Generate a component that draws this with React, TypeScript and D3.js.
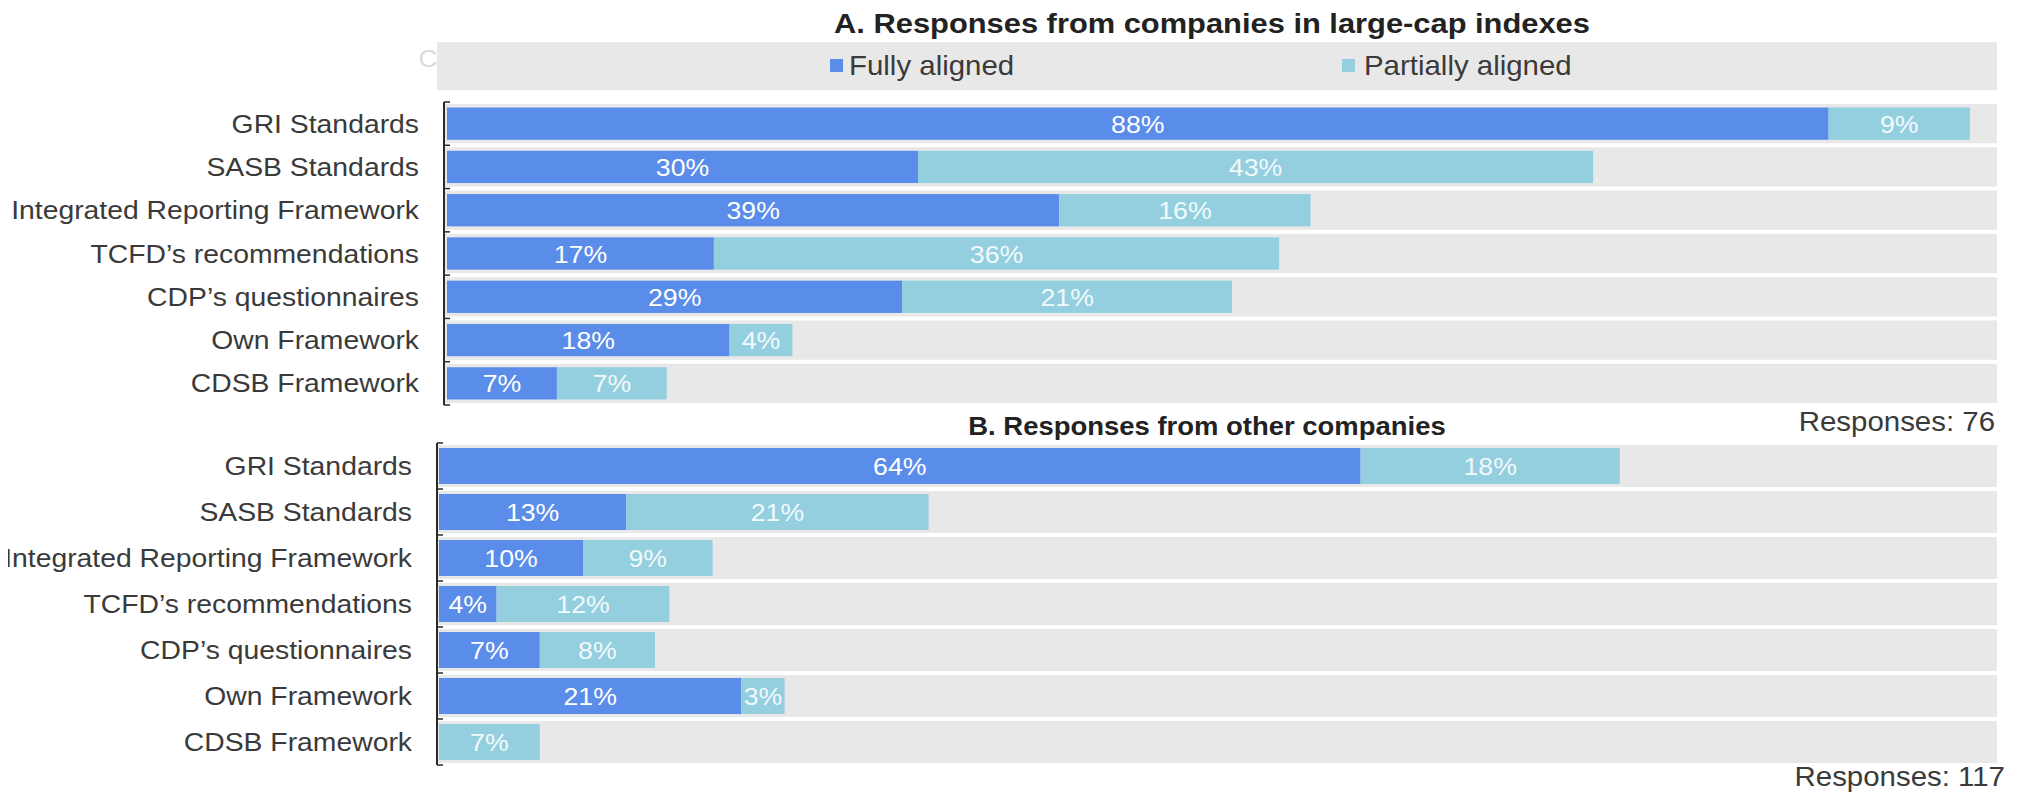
import React from "react";
import * as d3 from "d3";

const categories = [
  "GRI Standards",
  "SASB Standards",
  "Integrated Reporting Framework",
  "TCFD\u2019s recommendations",
  "CDP\u2019s questionnaires",
  "Own Framework",
  "CDSB Framework",
];
const seriesNames = ["Fully aligned", "Partially aligned"];
const largeFully = [88, 30, 39, 17, 29, 18, 7];
const largePartial = [9, 43, 16, 36, 21, 4, 7];
const otherFully = [64, 13, 10, 4, 7, 21, 0];
const otherPartial = [18, 21, 9, 12, 8, 3, 7];
const titleA = "A. Responses from companies in large-cap indexes";
const titleB = "B. Responses from other companies";
const responsesA = "Responses: 76";
const responsesB = "Responses: 117";

const W = 2018;
const H = 793;
const SX = 1.09;
const FONT = "'Liberation Sans', Arial, Helvetica, sans-serif";
const C_FULL = "#5A8CEA";
const C_PART = "#94CFE0";
const C_BG = "#E8E8E8";
const C_TEXT = "#3A3A3A";
const BG_RIGHT = 1997;

function T(props: {
  x: number;
  y: number;
  anchor?: string;
  size?: number;
  weight?: string | number;
  fill?: string;
  children: React.ReactNode;
}) {
  const { x, y, anchor = "start", size = 26, weight = "normal", fill = C_TEXT, children } = props;
  return (
    <text
      transform={`translate(${x},${y}) scale(${SX},1)`}
      textAnchor={anchor}
      fontSize={size}
      fontWeight={weight}
      fill={fill}
      fontFamily={FONT}
    >
      {children}
    </text>
  );
}

function Panel(props: {
  fully: number[];
  partial: number[];
  x0: number;
  x100: number;
  axisX: number;
  labelX: number;
  yTop: number;
  yBottom: number;
  barInset: number;
}) {
  const { fully, partial, x0, x100, axisX, labelX, yTop, yBottom, barInset } = props;
  const x = d3.scaleLinear().domain([0, 100]).range([x0, x100]);
  const y = d3.scaleBand<string>().domain(categories).range([yTop, yBottom]).paddingInner(0).paddingOuter(0);
  const bw = y.bandwidth();
  const gap = 4;
  return (
    <g>
      {categories.map((c, i) => {
        const top = y(c)!;
        const bTop = top + barInset;
        const bH = bw - barInset * 2;
        const f = fully[i];
        const p = partial[i];
        const cy = top + bw / 2 + 9;
        return (
          <g key={c}>
            <rect x={axisX + 1} y={top + gap / 2} width={BG_RIGHT - axisX - 1} height={bw - gap} fill={C_BG} />
            {f > 0 && <rect x={x(0)} y={bTop} width={x(f) - x(0)} height={bH} fill={C_FULL} />}
            {p > 0 && <rect x={x(f)} y={bTop} width={x(f + p) - x(f)} height={bH} fill={C_PART} />}
            {f > 0 && (
              <T x={(x(0) + x(f)) / 2} y={cy} anchor="middle" fill="#FFFFFF" size={24.5}>
                {f + "%"}
              </T>
            )}
            {p > 0 && (
              <T x={(x(f) + x(f + p)) / 2} y={cy} anchor="middle" fill="#F2F9FB" size={24.5}>
                {p + "%"}
              </T>
            )}
            <T x={labelX} y={cy} anchor="end" size={26}>
              {c}
            </T>
          </g>
        );
      })}
      <line x1={axisX} x2={axisX} y1={yTop} y2={yBottom} stroke="#2A2A2A" strokeWidth={2} />
      {d3.range(categories.length + 1).map((k) => {
        const ty = yTop + k * bw;
        return <line key={k} x1={axisX} x2={axisX + 6} y1={ty} y2={ty} stroke="#2A2A2A" strokeWidth={1.5} />;
      })}
    </g>
  );
}

export default function App() {
  return (
    <svg width={W} height={H} style={{ display: "block", margin: "-8px 0 0 -8px", background: "#fff" }}>
      <rect x={0} y={0} width={W} height={H} fill="#fff" />
      <T x={1212} y={33} anchor="middle" size={28.3} weight="bold" fill="#222">
        {titleA}
      </T>
      <rect x={437} y={42} width={BG_RIGHT - 437} height={48} fill={C_BG} />
      <T x={428} y={67} anchor="middle" size={24} fill="#DADADA">
        C
      </T>
      <rect x={830} y={59} width={13} height={13} fill={C_FULL} />
      <T x={849} y={75} size={27}>
        {seriesNames[0]}
      </T>
      <rect x={1342} y={59} width={13} height={13} fill={C_PART} />
      <T x={1364} y={75} size={27}>
        {seriesNames[1]}
      </T>
      <Panel
        fully={largeFully}
        partial={largePartial}
        x0={447}
        x100={447 + 1570}
        axisX={444}
        labelX={419}
        yTop={102}
        yBottom={405}
        barInset={5.5}
      />
      <T x={1207} y={435} anchor="middle" size={25.2} weight="bold" fill="#222">
        {titleB}
      </T>
      <T x={1995} y={431} anchor="end" size={27}>
        {responsesA}
      </T>
      <Panel
        fully={otherFully}
        partial={otherPartial}
        x0={439}
        x100={439 + 1440}
        axisX={437}
        labelX={412}
        yTop={443}
        yBottom={765}
        barInset={5}
      />
      <T x={2005} y={786} anchor="end" size={27}>
        {responsesB}
      </T>
    </svg>
  );
}
